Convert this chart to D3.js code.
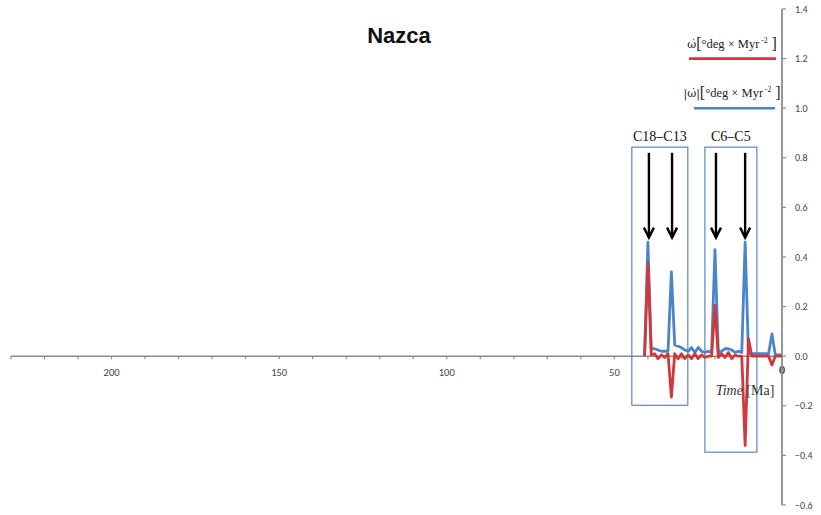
<!DOCTYPE html>
<html>
<head>
<meta charset="utf-8">
<script src="https://cdn.jsdelivr.net/npm/d3@7"></script>
<style>
  body { margin: 0; background: #fff; }
  svg { display: block; }
</style>
</head>
<body>
<div id="chart"></div>
<script>
const width = 821,
    height = 515;

// time in Ma (1 Myr steps)
const time = d3.range(41, -1, -1);

// |omega dot| (blue)
const absRate = [0, 0.46, 0.03, 0.03, 0.025, 0.02, 0.02, 0.02, 0.34, 0.045,
    0.04, 0.035, 0.025, 0.02, 0.035, 0.015, 0.035, 0.02, 0.015, 0.02,
    0.015, 0.43, 0.015, 0.02, 0.03, 0.03, 0.025, 0.015, 0.02, 0.015,
    0.46, 0.01, 0.01, 0.01, 0.01, 0.01, 0.01, 0.01, 0.09, 0.005, 0.005, 0.005];

// omega dot (red)
const rate = [0, 0.375, 0.005, 0.01, -0.01, 0.005, -0.005, 0.01, -0.165, 0.01,
    -0.01, 0.01, -0.01, 0.005, -0.01, 0.01, -0.01, 0.005, -0.005, 0,
    0, 0.205, -0.005, 0.01, -0.005, 0.015, -0.01, 0.005, 0, 0,
    -0.36, 0.07, 0, 0, 0, 0, 0, 0, -0.035, 0, 0, 0];

const xTicksMajor = [200, 150, 100, 50, 0];
const yTicks = [1.4, 1.2, 1.0, 0.8, 0.6, 0.4, 0.2, 0.0, -0.2, -0.4, -0.6];

// chron boxes and arrows (data units)
const boxes = [
    { label: "C18–C13", x0: 44.8, x1: 28.1, y0: 0.843, y1: -0.198 },
    { label: "C6–C5", x0: 23.0, x1: 7.5, y0: 0.843, y1: -0.387 }
];
const arrows = [39.7, 32.8, 19.7, 11.0];

const x = d3.scaleLinear()
    .domain([230, 0])
    .range([11, 782]);

const y = d3.scaleLinear()
    .domain([-0.6, 1.4])
    .range([505, 9]);

const svg = d3.select("#chart")
    .append("svg")
    .attr("width", width)
    .attr("height", height);

const axisColor = "#8c8c8c";
const blue = "#4a84c9";
const red = "#d0383b";

// x axis
const xAxis = svg.append("g")
    .attr("transform", `translate(0,${y(0)})`);

xAxis.append("line")
    .attr("x1", x(230)).attr("x2", x(0))
    .attr("stroke", axisColor).attr("stroke-width", 1.6);

xAxis.selectAll(".minor")
    .data(d3.range(230, 0, -10))
    .join("line")
    .attr("x1", d => x(d)).attr("x2", d => x(d))
    .attr("y1", 0).attr("y2", 3)
    .attr("stroke", axisColor).attr("stroke-width", 1.2);

xAxis.selectAll(".lbl")
    .data(xTicksMajor)
    .join("text")
    .attr("x", d => x(d))
    .attr("y", d => d === 0 ? 18 : 20)
    .attr("text-anchor", "middle")
    .attr("font-family", "Carlito, 'Liberation Sans', sans-serif")
    .attr("font-size", d => d === 0 ? 12 : 10.5)
    .attr("font-weight", d => d === 0 ? "bold" : "normal")
    .attr("fill", "#444")
    .text(d => d);

// y axis
const yAxis = svg.append("g")
    .attr("transform", `translate(${x(0)},0)`);

yAxis.append("line")
    .attr("y1", y(1.4)).attr("y2", y(-0.6))
    .attr("stroke", axisColor).attr("stroke-width", 1.8);

yAxis.selectAll(".tick")
    .data(yTicks)
    .join("line")
    .attr("x1", 0).attr("x2", 4)
    .attr("y1", d => y(d)).attr("y2", d => y(d))
    .attr("stroke", axisColor).attr("stroke-width", 1.2);

yAxis.selectAll(".lbl")
    .data(yTicks)
    .join("text")
    .attr("x", 13)
    .attr("y", d => y(d) + 3.5)
    .attr("font-family", "Carlito, 'Liberation Sans', sans-serif")
    .attr("font-size", 10)
    .attr("fill", "#444")
    .text(d => d3.format(".1f")(d));

// boxes
const box = svg.selectAll(".box")
    .data(boxes)
    .join("g")
    .attr("class", "box");

box.append("rect")
    .attr("x", d => x(d.x0))
    .attr("y", d => y(d.y0))
    .attr("width", d => x(d.x1) - x(d.x0))
    .attr("height", d => y(d.y1) - y(d.y0))
    .attr("fill", "none")
    .attr("stroke", "#5b85c0")
    .attr("stroke-width", 1.2);

box.append("text")
    .attr("x", d => (x(d.x0) + x(d.x1)) / 2)
    .attr("y", d => y(d.y0) - 6)
    .attr("text-anchor", "middle")
    .attr("font-family", "'Liberation Serif', serif")
    .attr("font-size", 14)
    .attr("fill", "#111")
    .text(d => d.label);

// series
const line = d3.line()
    .x((d, i) => x(time[i]))
    .y(d => y(d));

svg.append("path")
    .datum(absRate)
    .attr("fill", "none")
    .attr("stroke", blue)
    .attr("stroke-width", 2.8)
    .attr("stroke-linejoin", "round")
    .attr("d", line);

svg.append("path")
    .datum(rate)
    .attr("fill", "none")
    .attr("stroke", red)
    .attr("stroke-width", 2.8)
    .attr("stroke-linejoin", "round")
    .attr("d", line);

// arrows
const arrow = svg.selectAll(".arrow")
    .data(arrows)
    .join("g")
    .attr("class", "arrow")
    .attr("fill", "none")
    .attr("stroke", "#000")
    .attr("stroke-width", 2.4);

arrow.append("line")
    .attr("x1", d => x(d)).attr("x2", d => x(d))
    .attr("y1", y(0.82)).attr("y2", y(0.478));

arrow.append("path")
    .attr("d", d => `M${x(d) - 5},${y(0.478) - 10} L${x(d)},${y(0.478)} L${x(d) + 5},${y(0.478) - 10}`);

// title
svg.append("text")
    .attr("x", 399)
    .attr("y", 43)
    .attr("text-anchor", "middle")
    .attr("font-family", "'Liberation Sans', Arial, sans-serif")
    .attr("font-weight", "bold")
    .attr("font-size", 22)
    .attr("fill", "#111")
    .text("Nazca");

// legend
const legend = [
    { pre: "ω̇", color: red, yy: 1.2, x0: 689, x1: 776 },
    { pre: "|ω̇|", color: blue, yy: 1.0, x0: 694, x1: 775 }
];

const leg = svg.selectAll(".legend")
    .data(legend)
    .join("g")
    .attr("class", "legend");

leg.append("line")
    .attr("x1", d => d.x0).attr("x2", d => d.x1)
    .attr("y1", d => y(d.yy)).attr("y2", d => y(d.yy))
    .attr("stroke", d => d.color)
    .attr("stroke-width", 2.6);

const lt = leg.append("text")
    .attr("x", 732)
    .attr("y", d => y(d.yy) - 11)
    .attr("text-anchor", "middle")
    .attr("font-family", "'Liberation Serif', serif")
    .attr("font-size", 12.5)
    .attr("fill", "#222");

lt.append("tspan").attr("font-family", "'DejaVu Serif', serif").attr("font-size", 11).text(d => d.pre);
lt.append("tspan").attr("font-size", 16).attr("dy", 1).text("[");
lt.append("tspan").attr("dy", -1).text("°deg × Myr");
lt.append("tspan").attr("font-size", 7.5).attr("dy", -5).text(" -2");
lt.append("tspan").attr("font-size", 16).attr("dy", 6).text(" ]");

// x axis title
const tt = svg.append("text")
    .attr("x", 745)
    .attr("y", 395)
    .attr("text-anchor", "middle")
    .attr("font-family", "'Liberation Serif', serif")
    .attr("font-size", 14)
    .attr("fill", "#333");
tt.append("tspan").attr("font-style", "italic").text("Time");
tt.append("tspan").text(" [Ma]");
</script>
</body>
</html>
